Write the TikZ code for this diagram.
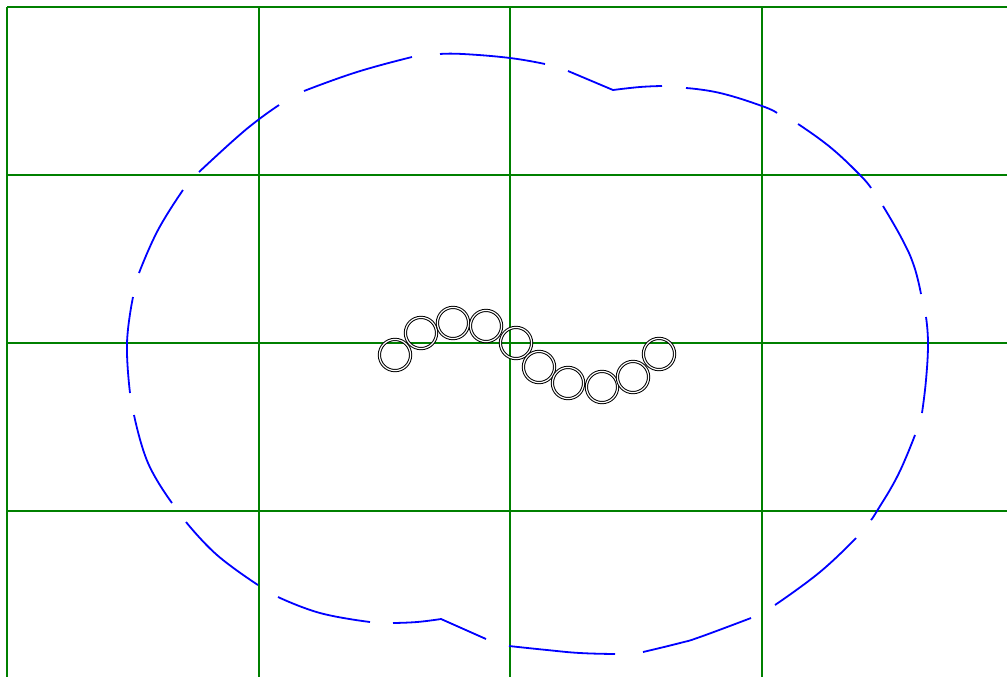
\documentclass[tikz,border=0pt]{standalone}
\begin{document}
\begin{tikzpicture}[x=0.5pt,y=-0.5pt,
  gridline/.style={draw=green!50!black,line width=1pt},
  outline/.style={draw=blue,line width=0.9pt},
  ring/.style={circle,draw=black,double=white,line width=0.5pt,double distance=0.6pt,minimum size=15.6pt,inner sep=0pt}]
\useasboundingbox (0,0) rectangle (1007,676);
\begin{scope}
\clip (0,0) rectangle (1007,676);
\foreach \x in {7,258.5,510,761.5}{\draw[gridline] (\x,7) -- (\x,690);}
\foreach \y in {7,175,343,511}{\draw[gridline] (7,\y) -- (1020,\y);}
\end{scope}
% dashed outline, dash by dash
\draw[outline] (568,71) -- plot[smooth,tension=0.75] coordinates {(613,90) (640,87) (662,86)};
\draw[outline] plot[smooth,tension=0.75] coordinates {(686,88) (720,93) (762,106) (777,113)};
\draw[outline] plot[smooth,tension=0.75] coordinates {(798,124) (830,147) (860,175) (871,188)};
\draw[outline] plot[smooth,tension=0.75] coordinates {(883,206) (902,239) (914,266) (921,294)};
\draw[outline] plot[smooth,tension=0.75] coordinates {(926,317) (928,343) (926,380) (922,413)};
\draw[outline] plot[smooth,tension=0.75] coordinates {(915,435) (898,475) (877,511) (871,520)};
\draw[outline] plot[smooth,tension=0.75] coordinates {(856,538) (820,572) (775,605)};
\draw[outline] plot[smooth,tension=0.75] coordinates {(751,618) (700,637) (680,643) (643,652)};
\draw[outline] plot[smooth,tension=0.75] coordinates {(615,654) (580,653) (547,650) (509,646)};
\draw[outline] (486,639) -- plot[smooth,tension=0.75] coordinates {(441,619) (417,622) (393,623)};
\draw[outline] plot[smooth,tension=0.75] coordinates {(370,622) (320,613) (278,597)};
\draw[outline] plot[smooth,tension=0.75] coordinates {(258,585) (217,555) (186,522)};
\draw[outline] plot[smooth,tension=0.75] coordinates {(172,503) (148,463) (134,415)};
\draw[outline] plot[smooth,tension=0.75] coordinates {(130,393) (127,343) (133,297)};
\draw[outline] plot[smooth,tension=0.75] coordinates {(139,273) (158,230) (183,190)};
\draw[outline] plot[smooth,tension=0.75] coordinates {(199,172) (235,139) (258,120) (279,105)};
\draw[outline] plot[smooth,tension=0.75] coordinates {(304,91) (357,72) (412,57)};
\draw[outline] plot[smooth,tension=0.75] coordinates {(440,54) (463,54) (510,58) (545,64)};
% rings
\node[ring] (c1) at (395,355) {};
\node[ring] (c2) at (421,333) {};
\node[ring] (c3) at (453,323) {};
\node[ring] (c4) at (486,326) {};
\node[ring] (c5) at (516,343) {};
\node[ring] (c6) at (539,367) {};
\node[ring] (c7) at (568,383) {};
\node[ring] (c8) at (602,387) {};
\node[ring] (c9) at (633,377) {};
\node[ring] (c10) at (659,354) {};
\end{tikzpicture}
\end{document}
